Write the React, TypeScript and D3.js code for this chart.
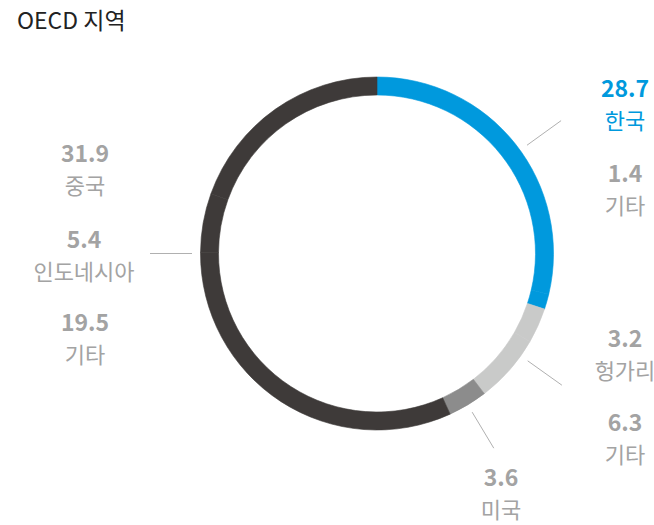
import React from "react";
import * as d3 from "d3";

const title = "OECD 지역";
const names = ["한국", "기타", "헝가리", "기타", "미국", "중국", "인도네시아", "기타"];
const values = [28.7, 1.4, 3.2, 6.3, 3.6, 31.9, 5.4, 19.5];
const groups = [0, 0, 1, 1, 2, 3, 3, 3];
const groupColors = ["#0099DD", "#C9CAC9", "#8C8C8C", "#3E3A39"];

const W = 654;
const H = 525;
const cx = 377;
const cy = 253.5;
const outerR = 176.5;
const innerR = 158.5;
const labelGray = "#A3A3A3";

// label layout: [x, numberBaseline, nameBaseline] for each item
const labelPos: [number, number, number][] = [
  [625, 97, 129],
  [625, 182, 214],
  [625, 347, 379],
  [625, 431, 463],
  [501, 486, 518],
  [85, 162, 194],
  [84, 248, 280],
  [85, 331, 363],
];

export default function App() {
  const pie = d3.pie<number>().sort(null).value((d) => d)(values);
  const arc = d3.arc<d3.PieArcDatum<number>>().innerRadius(innerR).outerRadius(outerR);
  const total = d3.sum(values);
  const angle = d3.scaleLinear().domain([0, total]).range([0, 2 * Math.PI]);

  const groupIds = Array.from(new Set(groups));
  const leaders = groupIds.map((g) => {
    const idx = groups.map((gg, i) => (gg === g ? i : -1)).filter((i) => i >= 0);
    const start = d3.sum(values.slice(0, idx[0]));
    const end = start + d3.sum(idx.map((i) => values[i]));
    let a = angle((start + end) / 2);
    if (a > Math.PI) a = (3 * Math.PI) / 2; // left-side group: horizontal leader
    const r1 = 185;
    const r2 = 227;
    return {
      x1: cx + r1 * Math.sin(a),
      y1: cy - r1 * Math.cos(a),
      x2: cx + r2 * Math.sin(a),
      y2: cy - r2 * Math.cos(a),
    };
  });

  const font = "'Noto Sans CJK KR', 'Noto Sans', sans-serif";

  return (
    <svg
      width={W}
      height={H}
      style={{ position: "absolute", left: 0, top: 0, background: "#fff" }}
      fontFamily={font}
    >
      <text x={17} y={29} fontSize={23} fontWeight={400} fill="#222">
        {title}
      </text>
      <g transform={`translate(${cx},${cy})`}>
        {pie.map((p, i) => (
          <path
            key={i}
            d={arc(p) || ""}
            fill={groupColors[groups[i]]}
            stroke={groupColors[groups[i]]}
            strokeWidth={0.6}
          />
        ))}
      </g>
      {leaders.map((l, i) => (
        <line key={i} x1={l.x1} y1={l.y1} x2={l.x2} y2={l.y2} stroke="#B0B0B0" strokeWidth={1} />
      ))}
      {names.map((n, i) => {
        const [x, yn, yl] = labelPos[i];
        const color = i === 0 ? "#0099DD" : labelGray;
        return (
          <g key={i}>
            <text x={x} y={yn} textAnchor="middle" fontSize={23} fontWeight={700} fill={color}>
              {values[i].toFixed(1)}
            </text>
            <text x={x} y={yl} textAnchor="middle" fontSize={22} fill={color}>
              {n}
            </text>
          </g>
        );
      })}
    </svg>
  );
}
